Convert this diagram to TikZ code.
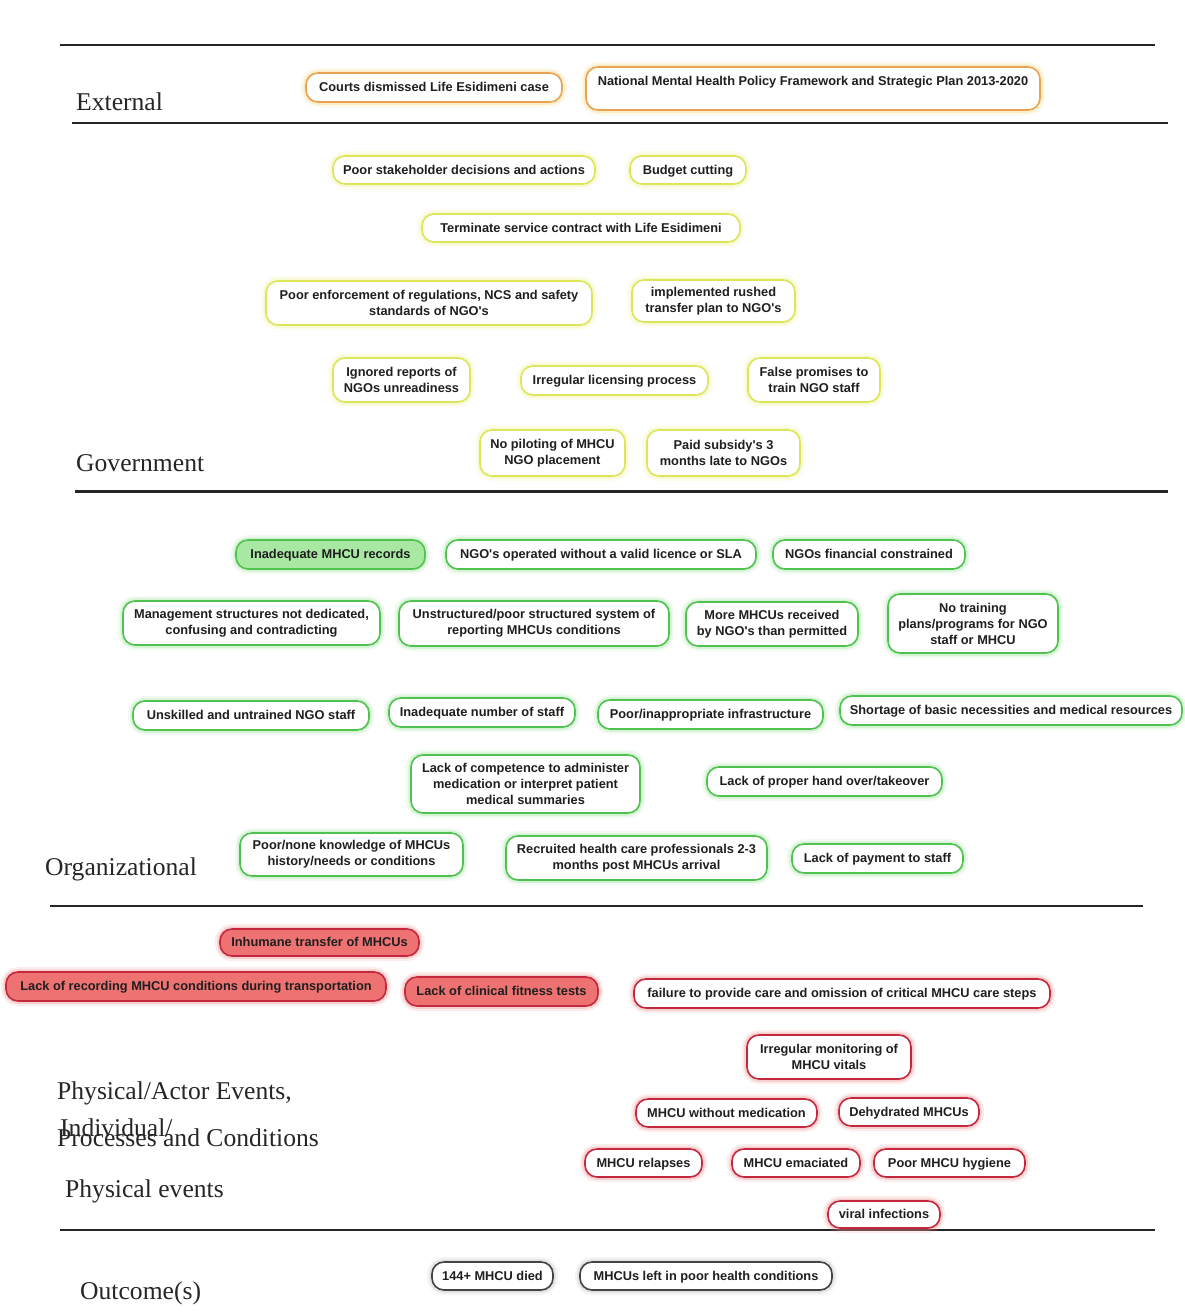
\documentclass[tikz,border=0pt]{standalone}
\usepackage{fontspec}
\setmainfont{Liberation Serif}
\newfontfamily\boxfont{Liberation Sans}
\definecolor{extc}{HTML}{E8A452}
\definecolor{extg}{HTML}{F3D77C}
\definecolor{govc}{HTML}{DDE65A}
\definecolor{govg}{HTML}{EEF29A}
\definecolor{orgc}{HTML}{4FC24F}
\definecolor{orgg}{HTML}{9BE39B}
\definecolor{orgf}{HTML}{A9E8A2}
\definecolor{phyc}{HTML}{C4283F}
\definecolor{phyg}{HTML}{EC8A8A}
\definecolor{phyf}{HTML}{EE7272}
\definecolor{outc}{HTML}{444444}
\definecolor{outg}{HTML}{BBBBBB}
\begin{document}
\begin{tikzpicture}[x=1pt,y=-1pt,
  lane/.style={font=\fontsize{25.6}{28}\selectfont, anchor=base west, inner sep=0pt, text=black!85},
  rule/.style={line width=1.5pt, draw=black!85},
  item/.style={draw, rounded corners=12pt, line width=1.6pt, fill=white, align=center,
    inner sep=2pt, font=\boxfont\bfseries\fontsize{12.8}{16}\selectfont, text=black!88},
  sl/.style={text height=9.2pt, text depth=1pt},
  glow/.style={preaction={draw=#1, line width=10pt, draw opacity=0.15},
               preaction={draw=#1, line width=5.5pt, draw opacity=0.3}},
  extbox/.style={item, draw=extc, glow=extg},
  govbox/.style={item, draw=govc, glow=govg},
  orgbox/.style={item, draw=orgc, glow=orgg},
  phybox/.style={item, draw=phyc, glow=phyg},
  outbox/.style={item, draw=outc, glow=outg},
  sz/.style 2 args={minimum width=#1, minimum height=#2},
]
\useasboundingbox[fill=white] (0,0) rectangle (1184,1315);

% separators between the layers
\draw[rule] (60,45) -- (1155,45);
\draw[rule] (72,123) -- (1168,123);
\draw[rule, line width=3pt] (75,491) -- (1168,491);
\draw[rule, line width=1.3pt] (50,906) -- (1143,906);
\draw[rule] (60,1230) -- (1155,1230);

% layer titles
\node[lane] (lext) at (76,110) {External};
\node[lane] (lgov) at (76,471) {Government};
\node[lane] (lorg) at (45,875) {Organizational};
\node[lane] (lphy1) at (57,1099) {Physical/Actor Events,};
\node[lane] (lphy2) at (60,1136) {Individual/};
\node[lane] (lphy3) at (57,1146) {Processes and Conditions};
\node[lane] (lphy4) at (65,1197) {Physical events};
\node[lane] (lout) at (80,1299) {Outcome(s)};

% external
\node[extbox, sl, sz={256}{29}] (e1) at (434,87.5) {Courts dismissed Life Esidimeni case};
\node[extbox, sz={454}{43}, text height=9.2pt, text depth=16pt] (e2) at (813,88.5) {National Mental Health Policy Framework and Strategic Plan 2013-2020};

% government
\node[govbox, sl, sz={262}{28}] (g1) at (464,170) {Poor stakeholder decisions and actions};
\node[govbox, sl, sz={116}{28}] (g2) at (688,170) {Budget cutting};
\node[govbox, sl, sz={318}{28}] (g3) at (581,228) {Terminate service contract with Life Esidimeni};
\node[govbox, sz={326}{44}] (g4) at (429,303) {Poor enforcement of regulations, NCS and safety\\standards of NGO's};
\node[govbox, sz={163}{42}] (g5) at (713.5,301) {implemented rushed\\transfer plan to NGO's};
\node[govbox, sz={137}{44}] (g6) at (401.5,380) {Ignored reports of\\NGOs unreadiness};
\node[govbox, sl, sz={187}{29}] (g7) at (614.5,380.5) {Irregular licensing process};
\node[govbox, sz={132}{44}] (g8) at (814,380) {False promises to\\train NGO staff};
\node[govbox, sz={145}{46}] (g9) at (552.5,453) {No piloting of MHCU\\NGO placement};
\node[govbox, sz={153}{46}] (g10) at (723.5,453) {Paid subsidy's 3\\months late to NGOs};

% organizational
\node[orgbox, sl, sz={189}{29}, fill=orgf] (o1) at (330.5,554.5) {Inadequate MHCU records};
\node[orgbox, sl, sz={310}{29}] (o2) at (601,554.5) {NGO's operated without a valid licence or SLA};
\node[orgbox, sl, sz={192}{29}] (o3) at (869,554.5) {NGOs financial constrained};
\node[orgbox, sz={257}{44}] (o4) at (251.5,623) {Management structures not dedicated,\\confusing and contradicting};
\node[orgbox, sz={270}{45}] (o5) at (534,623.5) {Unstructured/poor structured system of\\reporting MHCUs conditions};
\node[orgbox, sz={172}{44}] (o6) at (772,624) {More MHCUs received\\by NGO's than permitted};
\node[orgbox, sz={170}{59}] (o7) at (973,623.5) {No training\\plans/programs for NGO\\staff or MHCU};
\node[orgbox, sl, sz={236}{29}] (o8) at (251,715.5) {Unskilled and untrained NGO staff};
\node[orgbox, sl, sz={186}{29}] (o9) at (482,712.5) {Inadequate number of staff};
\node[orgbox, sl, sz={225}{29}] (o10) at (710.5,714.5) {Poor/inappropriate infrastructure};
\node[orgbox, sl, sz={342}{29}] (o11) at (1011,710.5) {Shortage of basic necessities and medical resources};
\node[orgbox, sz={229}{58}] (o12) at (525.5,784) {Lack of competence to administer\\medication or interpret patient\\medical summaries};
\node[orgbox, sl, sz={235}{29}] (o13) at (824.5,781.5) {Lack of proper hand over/takeover};
\node[orgbox, sz={223}{43}] (o14) at (351.5,854.5) {Poor/none knowledge of MHCUs\\history/needs or conditions};
\node[orgbox, sz={261}{44}] (o15) at (636.5,858) {Recruited health care professionals 2-3\\months post MHCUs arrival};
\node[orgbox, sl, sz={171}{29}] (o16) at (877.5,858.5) {Lack of payment to staff};

% physical / actor events
\node[phybox, sl, sz={199}{27}, fill=phyf] (p1) at (319.5,942.5) {Inhumane transfer of MHCUs};
\node[phybox, sl, sz={380}{29}, fill=phyf] (p2) at (196,986.5) {Lack of recording MHCU conditions during transportation};
\node[phybox, sl, sz={193}{29}, fill=phyf] (p3) at (501.5,991.5) {Lack of clinical fitness tests};
\node[phybox, sl, sz={416}{29}] (p4) at (842,993.5) {failure to provide care and omission of critical MHCU care steps};
\node[phybox, sz={164}{44}] (p5) at (829,1057) {Irregular monitoring of\\MHCU vitals};
\node[phybox, sl, sz={181}{28}] (p6) at (726.5,1113) {MHCU without medication};
\node[phybox, sl, sz={140}{28}] (p7) at (909,1112) {Dehydrated MHCUs};
\node[phybox, sl, sz={117}{28}] (p8) at (643.5,1163) {MHCU relapses};
\node[phybox, sl, sz={128}{28}] (p9) at (796,1163) {MHCU emaciated};
\node[phybox, sl, sz={151}{28}] (p10) at (949.5,1163) {Poor MHCU hygiene};
\node[phybox, sl, sz={112}{27}] (p11) at (884,1214.5) {viral infections};

% outcomes
\node[outbox, sl, sz={121}{28}] (u1) at (492.5,1276) {144+ MHCU died};
\node[outbox, sl, sz={252}{28}] (u2) at (706,1276) {MHCUs left in poor health conditions};
\end{tikzpicture}
\end{document}
